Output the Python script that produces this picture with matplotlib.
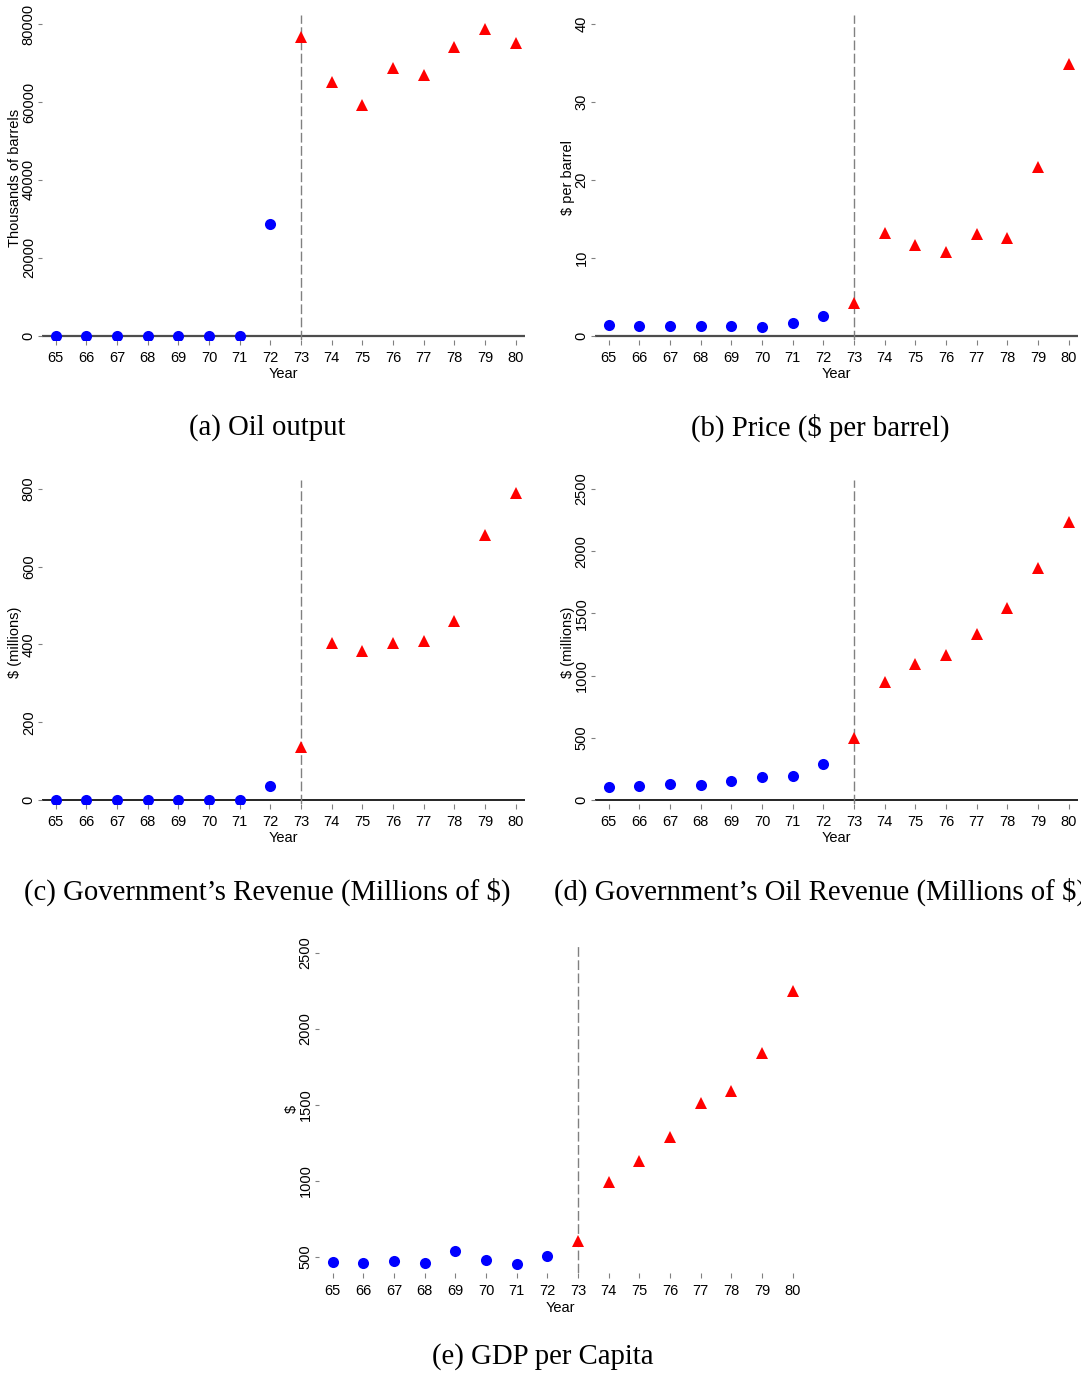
import matplotlib
matplotlib.use("Agg")
import matplotlib.pyplot as plt

W, H = 1081, 1374

pre_years = [65, 66, 67, 68, 69, 70, 71, 72]
post_years = [73, 74, 75, 76, 77, 78, 79, 80]
year_ticks = [65, 66, 67, 68, 69, 70, 71, 72, 73, 74, 75, 76, 77, 78, 79, 80]

oil_output_pre = [0, 0, 0, 0, 0, 0, 0, 28600]
oil_output_post = [76600, 65200, 59100, 68700, 67000, 74000, 78600, 75000]

price_pre = [1.41, 1.33, 1.28, 1.28, 1.24, 1.16, 1.67, 2.53]
price_post = [4.28, 13.15, 11.6, 10.7, 13.1, 12.6, 21.6, 34.9]

revenue_pre = [0, 0, 0, 0, 0, 0, 0, 36]
revenue_post = [137, 405, 384, 405, 410, 461, 682, 789]

oil_revenue_pre = [102, 110, 131, 121, 153, 188, 196, 287]
oil_revenue_post = [501, 951, 1093, 1166, 1337, 1541, 1862, 2232]

gdp_pre = [467, 463, 471, 463, 542, 482, 452, 507]
gdp_post = [607, 991, 1129, 1287, 1513, 1590, 1840, 2252]

SANS = "Liberation Sans"
SERIF = "Liberation Serif"


def make_panel(fig, rect_px, pre, post, ylim, yticks, ylabel, zero_color=None, zero_lw=1.5):
    left, top, right, bottom = rect_px
    ax = fig.add_axes([left / W, 1 - bottom / H, (right - left) / W, (bottom - top) / H])

    for side in ["top", "right", "left", "bottom"]:
        ax.spines[side].set_visible(False)

    if zero_color is not None:
        ax.axhline(0, color=zero_color, lw=zero_lw, zorder=1)
    ax.axvline(73, color="#808080", lw=1.0, dashes=(7, 2.5), zorder=2)

    ax.plot(pre_years, pre, "o", color="#0000ff", ms=8, mew=0, zorder=3)
    ax.plot(post_years, post, "^", color="#ff0000", ms=9, mew=0, zorder=3)

    ax.set_xlim(64.55, 80.3)
    ax.set_ylim(*ylim)
    ax.set_xticks(year_ticks)
    ax.set_yticks(yticks)
    ax.set_xticklabels([str(y) for y in year_ticks], family=SANS, fontsize=10.5)
    ax.set_yticklabels([str(v) for v in yticks], family=SANS, fontsize=10.5)
    ax.tick_params(axis="x", length=3.6, width=0.8, color="#808080", pad=4.5)
    ax.tick_params(axis="y", length=3, width=0.8, color="#808080", pad=1.5, labelrotation=90)
    for lab in ax.get_yticklabels():
        lab.set_verticalalignment("center")

    ax.set_xlabel("Year", family=SANS, fontsize=10.5)
    ax.xaxis.set_label_coords(0.5, -0.084)
    ax.set_ylabel(ylabel, family=SANS, fontsize=10.5)
    ax.yaxis.set_label_coords(-0.042, 0.5)
    return ax


fig = plt.figure(figsize=(W / 100, H / 100), dpi=100)

make_panel(fig, (42, 15, 525, 340), oil_output_pre, oil_output_post,
           (-1050, 82300), [0, 20000, 40000, 60000, 80000],
           "Thousands of barrels", zero_color="#4d4d4d", zero_lw=1.6)
make_panel(fig, (595, 15, 1078, 340), price_pre, price_post,
           (-0.52, 41.15), [0, 10, 20, 30, 40],
           "$ per barrel", zero_color="#4d4d4d", zero_lw=1.6)
make_panel(fig, (42, 480, 525, 804), revenue_pre, revenue_post,
           (-10.3, 823), [0, 200, 400, 600, 800],
           "$ (millions)", zero_color="black", zero_lw=1.2)
make_panel(fig, (595, 480, 1078, 804), oil_revenue_pre, oil_revenue_post,
           (-32, 2572), [0, 500, 1000, 1500, 2000, 2500],
           "$ (millions)", zero_color="black", zero_lw=1.2)
make_panel(fig, (319, 945, 802, 1273), gdp_pre, gdp_post,
           (395, 2553), [500, 1000, 1500, 2000, 2500],
           "$")

# caption (d) runs past the right edge in the original as well
captions = [
    (267, 428, "(a) Oil output"),
    (820, 428, "(b) Price ($ per barrel)"),
    (267, 892, "(c) Government\u2019s Revenue (Millions of $)"),
    (820, 892, "(d) Government\u2019s Oil Revenue (Millions of $)"),
    (543, 1357, "(e) GDP per Capita"),
]
for x, y, text in captions:
    fig.text(x / W, 1 - y / H, text, ha="center", va="center", family=SERIF, fontsize=20.7)

fig.savefig("out.png", dpi=100)
